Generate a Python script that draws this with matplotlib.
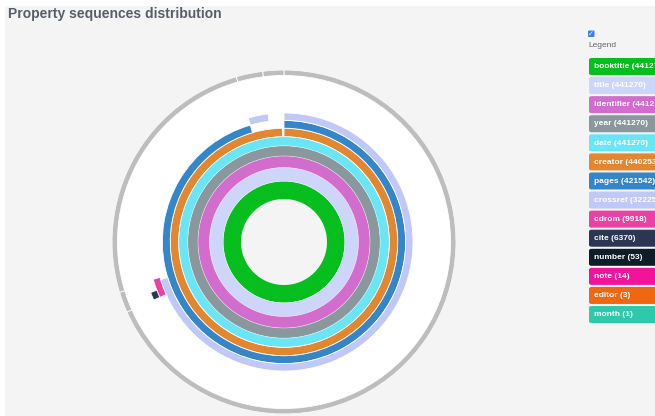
import numpy as np
import matplotlib.pyplot as plt
from matplotlib.patches import FancyBboxPatch, Rectangle

plt.rcParams['font.family'] = ['Liberation Sans', 'DejaVu Sans']

TOTAL = 441270

# sunburst segments: name, ring level, start (count), size (count)
seg_names = ['booktitle', 'title', 'identifier', 'year', 'date', 'creator', 'pages',
             'crossref', 'crossref', 'cdrom', 'cite',
             'end', 'end', 'end', 'end', 'end']
seg_level = [1, 2, 3, 4, 5, 6, 7, 8, 8, 9, 10, 15, 15, 15, 15, 15]
seg_start = [0, 0, 0, 0, 0, 0, 0, 0, 421542, 301500, 301500,
             0, 301500, 310120, 421542, 432570]
seg_size = [441270, 441270, 441270, 441270, 441270, 440253, 421542,
            310120, 11030, 9918, 4000,
            301500, 8620, 111422, 11028, 8700]

legend_names = ['booktitle', 'title', 'identifier', 'year', 'date', 'creator', 'pages',
                'crossref', 'cdrom', 'cite', 'number', 'note', 'editor', 'month']
legend_counts = [441270, 441270, 441270, 441270, 441270, 440253, 421542,
                 322250, 9918, 6370, 53, 14, 3, 1]
colors = {'booktitle': '#06bf1e', 'title': '#cdd6fa', 'identifier': '#d26ccd',
          'year': '#8a979d', 'date': '#6ae5f6', 'creator': '#e2872f',
          'pages': '#3586c9', 'crossref': '#bfc8f6', 'cdrom': '#ea41a4',
          'cite': '#2c3554', 'number': '#0f1d29', 'note': '#f1149b',
          'editor': '#f06711', 'month': '#2fc8ab', 'end': '#bdbdbd'}

W, H = 655, 416
fig = plt.figure(figsize=(W / 100, H / 100), dpi=100, facecolor='white')
fig.patches.append(Rectangle((5 / W, 0), 1, 1 - 6 / H, transform=fig.transFigure,
                             facecolor='#f4f4f4', edgecolor='none', zorder=-5))

# polar axes: centre (284, 242), radius 172 px
cx, cy, R = 284, 242, 172
ax = fig.add_axes([(cx - R) / W, 1 - (cy + R) / H, 2 * R / W, 2 * R / H],
                  projection='polar')
ax.set_zorder(3)
ax.set_facecolor('white')
ax.set_theta_zero_location('N')
ax.set_theta_direction(-1)
ax.set_ylim(0, R)
ax.grid(False)
ax.set_xticks([])
ax.set_yticks([])
ax.spines['polar'].set_visible(False)

unit = R / 4.0  # radius grows with sqrt(level)

def ring(level):
    return unit * np.sqrt(level), unit * np.sqrt(level + 1)

ax.bar(0, unit, width=2 * np.pi, bottom=0, align='edge', color='#f4f4f4',
       edgecolor='none')
for name, lvl, st, sz in zip(seg_names, seg_level, seg_start, seg_size):
    r0, r1 = ring(lvl)
    full = sz >= TOTAL
    ax.bar(st / TOTAL * 2 * np.pi, r1 - r0, width=sz / TOTAL * 2 * np.pi,
           bottom=r0, align='edge', color=colors[name],
           edgecolor='none' if full else 'white', linewidth=0 if full else 0.6)
    if full:
        th = np.linspace(0, 2 * np.pi, 400)
        ax.plot(th, np.full_like(th, r1), color='white', lw=0.4, alpha=0.7)

fig.text(8 / W, 1 - 14 / H, 'Property sequences distribution', fontsize=10,
         fontweight='bold', color='#575e69', va='center', ha='left')

# legend
fig.patches.append(FancyBboxPatch((588 / W, 1 - 37 / H), 6.5 / W, 6.5 / H,
                                  boxstyle='round,pad=0,rounding_size=0.002',
                                  transform=fig.transFigure, facecolor='#3b7ff0',
                                  edgecolor='none'))
fig.text(591.3 / W, 1 - 33.8 / H, '✓', fontsize=5, color='white', ha='center',
         va='center', family='DejaVu Sans', fontweight='bold')
fig.text(588 / W, 1 - 45.5 / H, 'Legend', fontsize=6, color='#666666',
         ha='left', va='center')
for i, (nm, ct) in enumerate(zip(legend_names, legend_counts)):
    top = 58 + i * 19.08
    fig.patches.append(FancyBboxPatch((589 / W, 1 - (top + 17) / H), 80 / W, 17 / H,
                                      boxstyle='round,pad=0,rounding_size=0.004',
                                      transform=fig.transFigure,
                                      facecolor=colors[nm], edgecolor='none'))
    fig.text(594.5 / W, 1 - (top + 8.7) / H, f'{nm} ({ct})', fontsize=6.0,
             fontweight='bold', color='white', ha='left', va='center')

fig.savefig('out.png', dpi=100, facecolor=fig.get_facecolor())
